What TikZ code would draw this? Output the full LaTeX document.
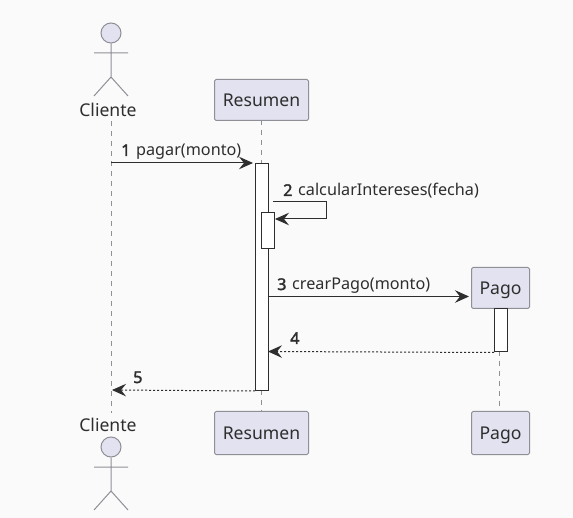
\documentclass[tikz,border=0pt]{standalone}
\usepackage{fontspec}
\setmainfont{Noto Sans}
\newfontface\boldnum[FakeBold=2.2]{Noto Sans}
\usetikzlibrary{arrows.meta}
\definecolor{bgc}{HTML}{FAFAFA}
\definecolor{part}{HTML}{E2E2F0}
\definecolor{edgec}{HTML}{8F8F97}
\definecolor{ink}{HTML}{2E2E2E}
\newcommand{\numlab}[1]{{\boldnum #1}}
\tikzset{
  participant/.style={draw=edgec,fill=part,line width=1pt,rounded corners=1.5pt,minimum height=41pt,inner sep=0pt,text=ink,text height=13pt,text depth=0pt,font=\fontsize{17.6}{20}\selectfont,anchor=north west},
  activation/.style={draw=ink,fill=white,line width=1pt,inner sep=0pt,anchor=north west},
  lifeline/.style={draw=edgec,line width=1pt,dash pattern=on 5pt off 5pt},
  stickman/.style={draw=edgec,line width=1pt},
  stickhead/.style={draw=edgec,fill=part,line width=1pt,circle,minimum size=20pt,inner sep=0pt},
  msg/.style={draw=ink,line width=1pt,-{Stealth[length=14pt,width=12.5pt,inset=5pt]}},
  reply/.style={msg,dash pattern=on 2pt off 2pt},
  msglabel/.style={text=ink,font=\fontsize{16.2}{18}\selectfont,anchor=base west,inner sep=0pt},
  actorname/.style={text=ink,font=\fontsize{17.6}{20}\selectfont,inner sep=0pt,anchor=base}
}
\begin{document}
\begin{tikzpicture}[x=1pt,y=-1pt]
\useasboundingbox[fill=bgc] (0,0) rectangle (573,518);
% lifelines
\coordinate (clTop) at (111,121);
\coordinate (clBot) at (111,413);
\coordinate (reTop) at (261,120);
\coordinate (reBot) at (261,411);
\coordinate (paTop) at (499,351);
\coordinate (paBot) at (499,411);
\draw[lifeline] (clTop) -- (clBot);
\draw[lifeline] (reTop) -- (reBot);
\draw[lifeline] (paTop) -- (paBot);
% participants
\node[participant,minimum width=94pt] (resTop) at (214,79) {Resumen};
\node[participant,minimum width=94pt,minimum height=43pt] (resBot) at (214,411) {Resumen};
\node[participant,minimum width=58pt] (pagoTop) at (471,267) {Pago};
\node[participant,minimum width=58pt,minimum height=43pt] (pagoBot) at (471,411) {Pago};
% actor top
\node[actorname] (cliTop) at (108,117) {Cliente};
\node[stickhead] (headTop) at (111,33) {};
\coordinate (armTL) at (94,53); \coordinate (armTR) at (128,53);
\coordinate (hipT) at (111,77); \coordinate (legTL) at (94,96); \coordinate (legTR) at (128,96);
\draw[stickman] (headTop.south) -- (hipT) (armTL) -- (armTR) (legTL) -- (hipT) -- (legTR);
% actor bottom
\node[actorname] (cliBot) at (108,431.5) {Cliente};
\node[stickhead] (headBot) at (111,447) {};
\coordinate (armBL) at (94,467); \coordinate (armBR) at (128,467);
\coordinate (hipB) at (111,491); \coordinate (legBL) at (94,510); \coordinate (legBR) at (128,510);
\draw[stickman] (headBot.south) -- (hipB) (armBL) -- (armBR) (legBL) -- (hipB) -- (legBR);
% activations
\node[activation,minimum width=12.5pt,minimum height=227pt] (actRes) at (255,163) {};
\node[activation,minimum width=12.5pt,minimum height=36pt] (actSelf) at (261,212.5) {};
\node[activation,minimum width=12.5pt,minimum height=43.5pt] (actPago) at (494,308) {};
% messages
\coordinate (m1a) at (111,163);
\draw[msg,shorten >=2pt] (m1a) -- (actRes.north west);
\node[msglabel] (l1) at (121,156) {\numlab{1}\hspace{1.5pt} pagar(monto)};
\coordinate (m2a) at (273,202); \coordinate (m2b) at (326,202); \coordinate (m2c) at (326,219); \coordinate (m2d) at (275,219);
\draw[msg] (m2a) -- (m2b) -- (m2c) -- (m2d);
\node[msglabel] (l2) at (283,196) {\numlab{2}\hspace{1.5pt} calcularIntereses(fecha)};
\coordinate (m3a) at (267.5,296.5); \coordinate (m3b) at (469,296.5);
\draw[msg] (m3a) -- (m3b);
\node[msglabel] (l3) at (277,290) {\numlab{3}\hspace{1.5pt} crearPago(monto)};
\coordinate (m4b) at (268,351.5);
\draw[reply] (actPago.south west) -- (m4b);
\node[msglabel] (l4) at (290,344) {\numlab{4}};
\coordinate (m5b) at (112,390);
\draw[reply] (actRes.south west) -- (m5b);
\node[msglabel] (l5) at (133,383) {\numlab{5}};
\end{tikzpicture}
\end{document}
